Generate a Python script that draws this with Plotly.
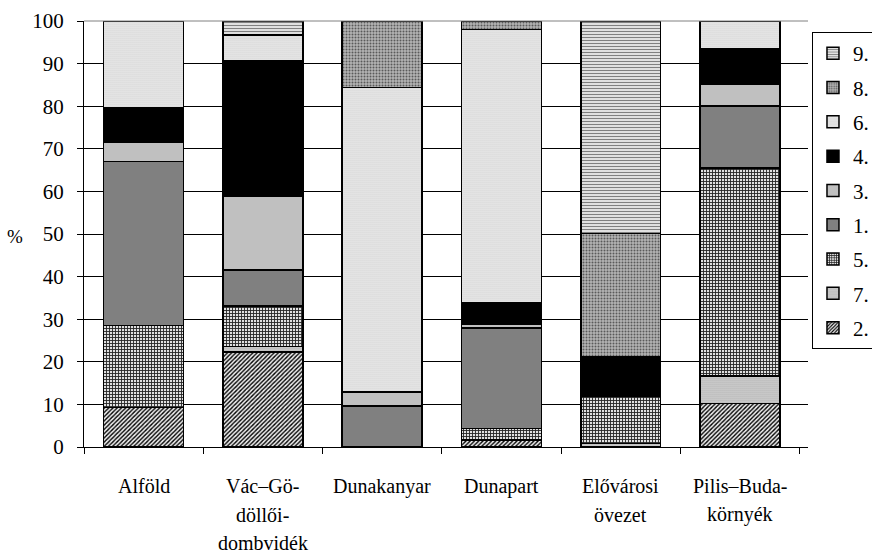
import plotly.graph_objects as go

# Regions (x categories) and their label lines
regions = ["Alföld", "Vác–Gö-döllői-dombvidék", "Dunakanyar", "Dunapart",
           "Elővárosi övezet", "Pilis–Buda-környék"]
region_lines = [["Alföld"], ["Vác–Gö-", "döllői-", "dombvidék"], ["Dunakanyar"],
                ["Dunapart"], ["Elővárosi", "övezet"], ["Pilis–Buda-", "környék"]]

# Share (%) of each group per region, stacked bottom to top
s2 = [9.3, 22.3, 0.0, 1.6, 0.0, 10.2]
s7 = [0.0, 1.3, 0.0, 0.0, 0.8, 6.5]
s5 = [19.2, 9.5, 0.0, 2.8, 11.1, 48.8]
s1 = [38.5, 8.4, 9.6, 23.5, 0.0, 14.6]
s3 = [4.5, 17.4, 3.3, 0.9, 0.0, 5.0]
s4 = [8.2, 31.7, 0.0, 5.0, 9.2, 8.4]
s6 = [20.3, 6.1, 71.5, 64.2, 0.0, 6.5]
s8 = [0.0, 0.0, 15.6, 2.0, 29.0, 0.0]
s9 = [0.0, 3.3, 0.0, 0.0, 49.9, 0.0]

series = [("2.", s2), ("7.", s7), ("5.", s5), ("1.", s1), ("3.", s3),
          ("4.", s4), ("6.", s6), ("8.", s8), ("9.", s9)]

# Monochrome fills (pattern shape, foreground, background, size, solidity)
fills = {
    "2.": dict(shape="/", fgcolor="#000000", bgcolor="#f0f0f0", size=3, solidity=0.45),
    "7.": dict(shape=".", fgcolor="#8a8a8a", bgcolor="#d6d6d6", size=2, solidity=0.3),
    "5.": dict(shape="+", fgcolor="#222222", bgcolor="#e0e0e0", size=3, solidity=0.5),
    "1.": None,
    "3.": None,
    "4.": None,
    "6.": dict(shape=".", fgcolor="#b8b8b8", bgcolor="#eeeeee", size=2, solidity=0.3),
    "8.": dict(shape=".", fgcolor="#5a5a5a", bgcolor="#b4b4b4", size=3, solidity=0.35),
    "9.": dict(shape="-", fgcolor="#808080", bgcolor="#f4f4f4", size=3, solidity=0.45),
}
solid = {"1.": "#808080", "3.": "#c0c0c0", "4.": "#000000"}

FONT = "Liberation Serif, Times New Roman, Times, serif"

fig = go.Figure()
n = len(series)
for k, (name, vals) in enumerate(series):
    pat = fills[name]
    marker = dict(line=dict(color="#000000", width=1.5))
    if pat is None:
        marker["color"] = solid[name]
    else:
        marker["color"] = pat["bgcolor"]
        marker["pattern"] = dict(fillmode="replace", **pat)
    fig.add_trace(go.Bar(x=regions, y=vals, name=name, marker=marker,
                         width=0.67, legendgroup=name, legendrank=n - k))

# Multi-line category labels under the axis
annotations = []
for reg, lines in zip(regions, region_lines):
    for i, ln in enumerate(lines):
        annotations.append(dict(x=reg, xref="x", y=-0.092 - i * 0.067, yref="paper",
                                text=ln, showarrow=False, xanchor="center",
                                yanchor="middle",
                                font=dict(family=FONT, size=20, color="#000")))
annotations.append(dict(x=-0.095, xref="paper", y=0.495, yref="paper", text="%",
                        showarrow=False, xanchor="center", yanchor="middle",
                        font=dict(family=FONT, size=19, color="#000")))

fig.update_layout(
    width=872, height=556,
    margin=dict(l=84, r=64, t=21, b=109, autoexpand=False),
    barmode="stack",
    plot_bgcolor="#ffffff", paper_bgcolor="#ffffff",
    font=dict(family=FONT, size=21, color="#000000"),
    showlegend=True,
    legend=dict(x=1.0055, y=0.974, xanchor="left", yanchor="top",
                traceorder="grouped", tracegroupgap=4,
                bordercolor="#000000", borderwidth=1, bgcolor="#ffffff",
                font=dict(family=FONT, size=21, color="#000")),
    annotations=annotations,
    shapes=[dict(type="line", xref="paper", yref="paper", x0=0, x1=1, y0=1, y1=1,
                 line=dict(color="#808080", width=1))],
)
fig.update_xaxes(type="category", range=[-0.5, 5.57], showticklabels=False,
                 showline=True, linecolor="#000000", linewidth=1,
                 ticks="outside", ticklen=6, tickcolor="#000", tickson="boundaries",
                 showgrid=False, zeroline=False)
fig.update_yaxes(range=[0, 100], dtick=10, showline=True, linecolor="#000000",
                 linewidth=1, ticks="outside", ticklen=6, tickcolor="#000",
                 showgrid=True, gridcolor="#000000", gridwidth=1, zeroline=False,
                 ticklabelstandoff=9, tickfont=dict(family=FONT, size=21))

fig.write_html("out.html")
